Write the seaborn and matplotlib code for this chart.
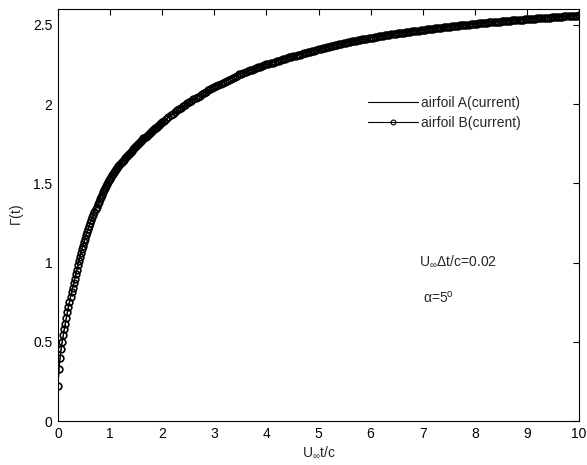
import numpy as np
import pandas as pd
import matplotlib
matplotlib.use("Agg")
import matplotlib.pyplot as plt
import seaborn as sns

# time grid: dt = 0.02 up to t = 2, then every 0.04 up to t = 10
t_early = [round(0.02 * i, 2) for i in range(51)]
t_mid = [round(1.0 + 0.02 * i, 2) for i in range(1, 51)]
t_late = [round(2.0 + 0.04 * i, 2) for i in range(1, 201)]

gamma_early = [0.22, 0.33, 0.40, 0.455, 0.50, 0.54,
               0.578, 0.615, 0.651, 0.686, 0.72,
               0.752, 0.783, 0.813, 0.842, 0.87,
               0.899, 0.928, 0.956, 0.983, 1.01,
               1.035, 1.06, 1.084, 1.107, 1.13,
               1.151, 1.171, 1.191, 1.211, 1.23,
               1.249, 1.267, 1.285, 1.303, 1.32,
               1.337, 1.353, 1.369, 1.385, 1.40,
               1.415, 1.429, 1.443, 1.457, 1.47,
               1.483, 1.495, 1.507, 1.519, 1.53]

gamma_mid = [1.540, 1.550, 1.560, 1.569, 1.579, 1.588, 1.598, 1.607, 1.616, 1.625,
             1.633, 1.641, 1.649, 1.657, 1.664, 1.671, 1.678, 1.686, 1.693, 1.700,
             1.707, 1.714, 1.721, 1.728, 1.735, 1.742, 1.749, 1.756, 1.763, 1.770,
             1.776, 1.783, 1.789, 1.795, 1.801, 1.807, 1.813, 1.819, 1.824, 1.830,
             1.836, 1.841, 1.847, 1.852, 1.858, 1.863, 1.869, 1.874, 1.880, 1.885]

gamma_late = [1.896, 1.907, 1.918, 1.928, 1.939, 1.949, 1.960, 1.969, 1.978, 1.987,
              1.996, 2.005, 2.013, 2.022, 2.030, 2.038, 2.046, 2.054, 2.062, 2.070,
              2.078, 2.086, 2.094, 2.102, 2.110, 2.116, 2.123, 2.129, 2.136, 2.142,
              2.148, 2.154, 2.161, 2.167, 2.174, 2.180, 2.187, 2.192, 2.197, 2.202,
              2.207, 2.212, 2.216, 2.221, 2.226, 2.231, 2.236, 2.240, 2.245, 2.250,
              2.254, 2.258, 2.262, 2.266, 2.270, 2.274, 2.278, 2.282, 2.286, 2.290,
              2.294, 2.298, 2.301, 2.305, 2.309, 2.312, 2.316, 2.320, 2.323, 2.327,
              2.330, 2.334, 2.337, 2.341, 2.345, 2.348, 2.351, 2.355, 2.358, 2.361,
              2.364, 2.367, 2.371, 2.374, 2.377, 2.380, 2.383, 2.386, 2.389, 2.392,
              2.395, 2.397, 2.400, 2.402, 2.405, 2.408, 2.410, 2.413, 2.415, 2.418,
              2.420, 2.422, 2.425, 2.427, 2.429, 2.431, 2.433, 2.436, 2.438, 2.440,
              2.442, 2.444, 2.446, 2.448, 2.450, 2.451, 2.453, 2.455, 2.457, 2.459,
              2.461, 2.462, 2.464, 2.466, 2.468, 2.469, 2.471, 2.473, 2.474, 2.476,
              2.478, 2.479, 2.481, 2.482, 2.484, 2.486, 2.487, 2.489, 2.490, 2.492,
              2.493, 2.495, 2.496, 2.498, 2.499, 2.500, 2.502, 2.503, 2.505, 2.506,
              2.507, 2.509, 2.510, 2.511, 2.512, 2.514, 2.515, 2.516, 2.518, 2.519,
              2.520, 2.521, 2.522, 2.523, 2.525, 2.526, 2.527, 2.528, 2.529, 2.530,
              2.531, 2.532, 2.533, 2.535, 2.536, 2.537, 2.538, 2.539, 2.540, 2.541,
              2.542, 2.543, 2.544, 2.545, 2.546, 2.546, 2.547, 2.548, 2.549, 2.550,
              2.551, 2.552, 2.553, 2.553, 2.554, 2.555, 2.556, 2.557, 2.558, 2.559]

time = t_early + t_mid + t_late
gamma_A = gamma_early + gamma_mid + gamma_late
gamma_B = gamma_early + gamma_mid + gamma_late

x_ticks = [0, 1, 2, 3, 4, 5, 6, 7, 8, 9, 10]
y_ticks = [0, 0.5, 1, 1.5, 2, 2.5]
y_tick_labels = ["0", "0.5", "1", "1.5", "2", "2.5"]

sns.set_style("white")
plt.rcParams["font.family"] = ["Liberation Sans", "DejaVu Sans"]
plt.rcParams["mathtext.fontset"] = "custom"
plt.rcParams["mathtext.rm"] = "Liberation Sans"
plt.rcParams["mathtext.it"] = "Liberation Sans"
plt.rcParams["mathtext.sf"] = "Liberation Sans"

df = pd.DataFrame({"t": time, "A": gamma_A, "B": gamma_B})

fig = plt.figure(figsize=(5.87, 4.65), dpi=100)
ax = fig.add_axes([58 / 587, 1 - 421 / 465, 521 / 587, 412 / 465])

sns.lineplot(data=df, x="t", y="A", ax=ax, color="black", linewidth=0.8,
             label="airfoil A(current)", estimator=None, sort=False)
sns.lineplot(data=df, x="t", y="B", ax=ax, color="black", linewidth=0.8,
             marker="o", markersize=4.8, markerfacecolor="none",
             markeredgecolor="black", markeredgewidth=1.2,
             label="airfoil B(current)", estimator=None, sort=False)

ax.set_xlim(0, 10)
ax.set_ylim(0, 2.6)
ax.set_xticks(x_ticks)
ax.set_yticks(y_ticks)
ax.set_yticklabels(y_tick_labels)
ax.tick_params(direction="in", length=4, width=0.8, top=True, right=True,
               labelsize=10, colors="black", pad=4)
for s in ax.spines.values():
    s.set_visible(True)
    s.set_color("black")
    s.set_linewidth(0.8)

ax.set_xlabel(r"U$_{\infty}$t/c", fontsize=10, labelpad=3)
ax.set_ylabel(r"$\Gamma$(t)", fontsize=10, labelpad=5)

leg = ax.legend(loc="center left", bbox_to_anchor=(0.595, 0.7476), frameon=False,
                fontsize=10, handlelength=3.6, handletextpad=0.25,
                labelspacing=0.45, borderpad=0, borderaxespad=0)
for line in leg.get_lines():
    line.set_markersize(3.5)
    line.set_markeredgewidth(0.8)

ax.text(6.93, 1.006, r"U$_{\infty}$$\Delta$t/c=0.02", fontsize=10, va="center", ha="left")
ax.text(7.0, 0.78, r"$\alpha$=5$^{\mathrm{o}}$", fontsize=10, va="center", ha="left")

fig.savefig("out.png", dpi=100)
